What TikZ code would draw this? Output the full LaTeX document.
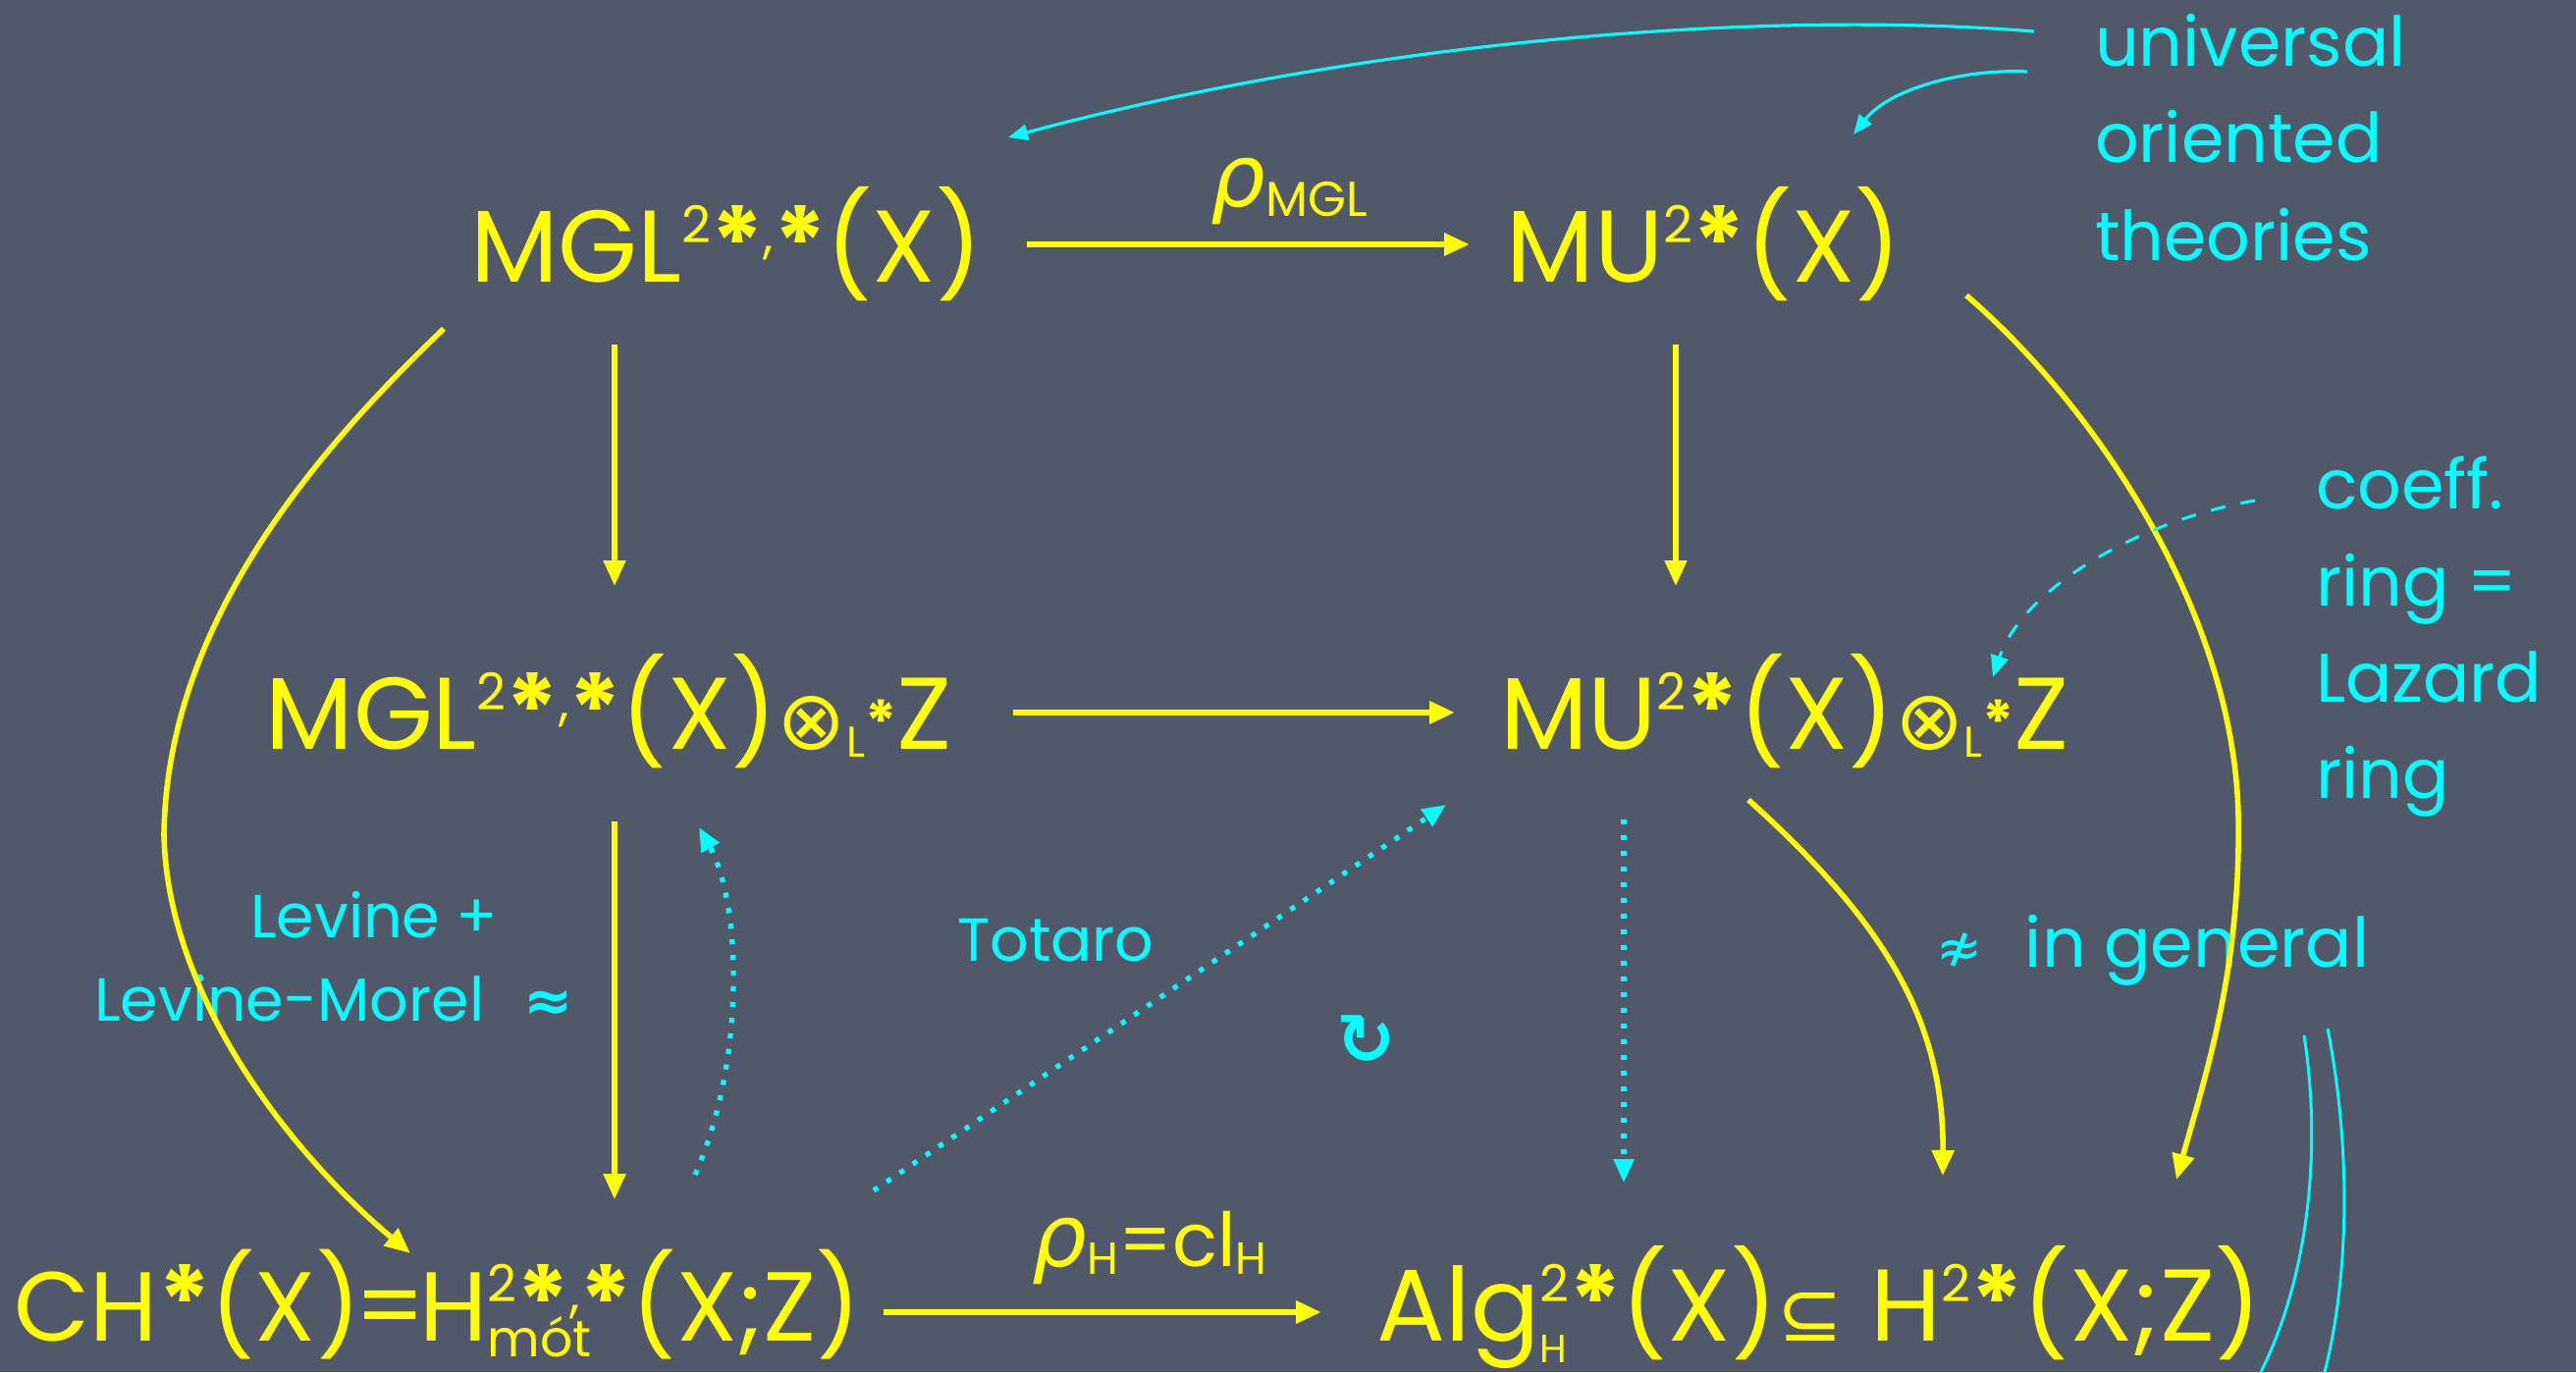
\documentclass[tikz,border=0pt]{standalone}
\usepackage{fontspec}
\setmainfont{Poppins}
\newfontfamily\symf{DejaVu Sans}
\usetikzlibrary{arrows.meta}
\definecolor{board}{RGB}{81,88,106}
\definecolor{chalkY}{RGB}{255,255,0}
\definecolor{chalkC}{RGB}{0,255,255}
\newcommand\fsz[1]{\fontsize{#1}{#1}\selectfont}
\newcommand\two{\raisebox{20pt}{\fsz{26}2}}
\newcommand\st{\raisebox{2pt}{\fsz{50}\bfseries *}}
\newcommand\cm{\raisebox{15pt}{\fsz{26},}}
\newcommand\dnr[3]{\raisebox{-#1}{\fsz{#2}#3}}
\newcommand\updn[4]{\setbox0\hbox{#1}\setbox2\hbox{\dnr{#2}{#3}{#4}}\ifdim\wd0>\wd2 \rlap{\copy2}\copy0 \else\rlap{\copy0}\copy2 \fi}
\newcommand\otm{{\symf\fsz{42}⊗}}
\newcommand\sbe{{\symf\fsz{40}⊆}}
\newcommand\lstar{\dnr{4pt}{22}{L\raisebox{7pt}{\fsz{30}\bfseries *}}}
\newcommand\rhof{{\symf\itshape ρ}}
\begin{document}
\begin{tikzpicture}[x=0.5pt,y=-0.5pt,
  every node/.style={inner sep=0pt, outer sep=0pt},
  bigY/.style={text=chalkY, font=\fsz{52}},
  noteC/.style={text=chalkC, font=\fsz{35}},
  smallC/.style={text=chalkC, font=\fsz{31}},
  yarrow/.style={draw=chalkY, line width=2.6pt, -{Triangle[length=13pt,width=11pt]}},
  harrow/.style={yarrow, line width=3.2pt},
  ycurve/.style={yarrow, line width=2.8pt},
  cdot/.style={draw=chalkC, line width=2.6pt, dash pattern=on 2.6pt off 5.4pt, -{Triangle[length=12pt,width=10pt]}},
  cthin/.style={draw=chalkC, line width=1.6pt, -{Triangle[length=10pt,width=8pt]}},
  cdash/.style={draw=chalkC, line width=1.5pt, dash pattern=on 7.5pt off 8pt, -{Triangle[length=11pt,width=9pt]}},
  cline/.style={draw=chalkC, line width=1.5pt}
]
\fill[board] (0,0) rectangle (2624,1398);
\useasboundingbox (0,0) rectangle (2624,1398);

% main objects
\node[bigY, anchor=base] (mgl) at (740,287) {MGL\two\st\cm\st(X)};
\node[bigY, anchor=base] (mu) at (1736,287) {MU\two\st(X)};
\node[bigY, anchor=base] (mglz) at (620,763) {MGL\two\st\cm\st(X)\otm\lstar Z};
\node[bigY, anchor=base] (muz) at (1818,763) {MU\two\st(X)\otm\lstar Z};
\node[bigY, anchor=base, font=\fsz{50}] (ch) at (446,1366) {CH\st(X)\kern-3pt=\kern-3pt H\updn{\two\st\cm\st}{8pt}{26}{mót}(X;Z)};
\node[bigY, anchor=base] (alg) at (1853,1366) {Alg\updn{\two\st}{11pt}{20}{H}(X)\sbe{} H\two\st(X;Z)};

% arrow labels
\node[text=chalkY, anchor=base, font=\fsz{44}] (rmgl) at (1313,210) {\rhof\dnr{5pt}{25}{MGL}};
\node[text=chalkY, anchor=base, font=\fsz{44}] (rh) at (1171,1290) {\rhof\dnr{4pt}{23}{H}{\fsz{38}=cl}\dnr{4pt}{23}{H}};

% cyan notes
\node[noteC, anchor=base west] (u1) at (2134,67) {universal};
\node[noteC, anchor=base west] (u2) at (2134,165) {oriented};
\node[noteC, anchor=base west] (u3) at (2134,265) {theories};
\node[noteC, anchor=base west] (c1) at (2359,518) {coeff.};
\node[noteC, anchor=base west] (c2) at (2359,617) {ring =};
\node[noteC, anchor=base west] (c3) at (2359,715) {Lazard};
\node[noteC, anchor=base west] (c4) at (2359,813) {ring};
\node[smallC, anchor=base west] (lev1) at (255,955) {Levine +};
\node[smallC, anchor=base west] (lev2) at (96,1040) {Levine-Morel\hspace{20pt}{\symf\bfseries\fsz{30}≈}};
\node[smallC, anchor=base west] (tot) at (975,979) {Totaro};
\node[text=chalkC, font=\symf\bfseries\fsz{36}] (circ) at (1392,1060) {↻};
\node[noteC, anchor=base west] (ing) at (1972,985) {{\symf\fsz{28}≉}\hspace{22pt}in general};

% connector end points
\coordinate (tA) at (1046,249); \coordinate (tB) at (1497,249);
\coordinate (mA) at (1032,726); \coordinate (mB) at (1482,726);
\coordinate (bA) at (900,1337); \coordinate (bB) at (1346,1337);
\coordinate (vlA) at (626,351); \coordinate (vlB) at (626,597);
\coordinate (vrA) at (1707,351); \coordinate (vrB) at (1707,597);
\coordinate (vbA) at (626,837); \coordinate (vbB) at (626,1222);
\coordinate (lcA) at (452,335); \coordinate (lcM) at (167,850); \coordinate (lcB) at (418,1277);
\coordinate (rcA) at (2003,301); \coordinate (rcM) at (2280,830); \coordinate (rcB) at (2217,1202);
\coordinate (scA) at (1781,815); \coordinate (scB) at (1979,1198);
\coordinate (dlA) at (708,1197); \coordinate (dlB) at (712,843);
\coordinate (dtA) at (890,1213); \coordinate (dtB) at (1473,820);
\coordinate (drA) at (1654,835); \coordinate (drB) at (1654,1205);
\coordinate (uA) at (2072,32); \coordinate (uB) at (1027,140);
\coordinate (vA) at (2065,73); \coordinate (vB) at (1888,137);
\coordinate (kA) at (2297,510); \coordinate (kB) at (2030,690);

% yellow arrows
\draw[harrow] (tA) -- (tB);
\draw[harrow] (mA) -- (mB);
\draw[harrow] (bA) -- (bB);
\draw[yarrow] (vlA) -- (vlB);
\draw[yarrow] (vrA) -- (vrB);
\draw[yarrow] (vbA) -- (vbB);
\draw[ycurve] (lcA) .. controls (300,480) and (170,650) .. (lcM) .. controls (170,1010) and (290,1170) .. (lcB);
\draw[ycurve] (rcA) .. controls (2130,410) and (2275,620) .. (rcM) .. controls (2283,990) and (2245,1100) .. (rcB);
\draw[ycurve] (scA) .. controls (1920,940) and (1980,1040) .. (scB);

% cyan arrows
\draw[cdot] (dlA) .. controls (760,1080) and (755,920) .. (dlB);
\draw[cdot] (dtA) -- (dtB);
\draw[cdot] (drA) -- (drB);
\draw[cthin] (uA) .. controls (1800,10) and (1400,40) .. (uB);
\draw[cthin] (vA) .. controls (2000,70) and (1925,90) .. (vB);
\draw[cdash] (kA) .. controls (2180,530) and (2060,600) .. (kB);

% cyan strokes at lower right
\draw[cline] (2347,1055) .. controls (2365,1170) and (2352,1300) .. (2303,1398);
\draw[cline] (2371,1048) .. controls (2395,1170) and (2393,1300) .. (2368,1398);
\end{tikzpicture}
\end{document}
